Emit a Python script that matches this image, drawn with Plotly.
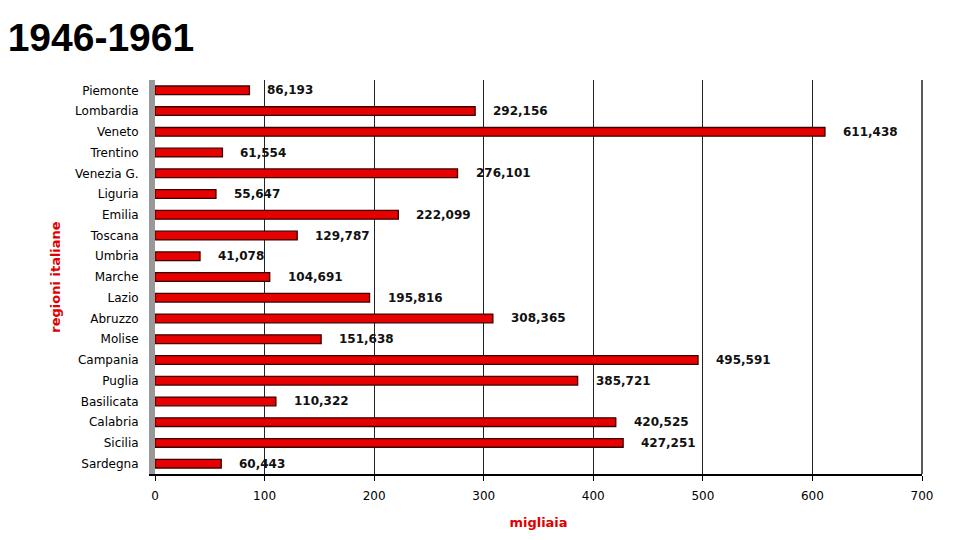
import plotly.graph_objects as go

regions = ["Piemonte", "Lombardia", "Veneto", "Trentino", "Venezia G.", "Liguria",
           "Emilia", "Toscana", "Umbria", "Marche", "Lazio", "Abruzzo", "Molise",
           "Campania", "Puglia", "Basilicata", "Calabria", "Sicilia", "Sardegna"]
values = [86.193, 292.156, 611.438, 61.554, 276.101, 55.647, 222.099, 129.787, 41.078,
          104.691, 195.816, 308.365, 151.638, 495.591, 385.721, 110.322, 420.525,
          427.251, 60.443]
labels = ["86,193", "292,156", "611,438", "61,554", "276,101", "55,647", "222,099",
          "129,787", "41,078", "104,691", "195,816", "308,365", "151,638", "495,591",
          "385,721", "110,322", "420,525", "427,251", "60,443"]
x_ticks = [0, 100, 200, 300, 400, 500, 600, 700]

fig = go.Figure()
fig.add_trace(go.Bar(
    x=values, y=regions, orientation="h", width=0.42,
    marker=dict(color="#e60000", line=dict(color="#3a0000", width=1.3)),
    hoverinfo="x+y",
))

annotations = []
for r, v, t in zip(regions, values, labels):
    annotations.append(dict(x=v, y=r, xref="x", yref="y", text="<b>" + t + "</b>",
                            showarrow=False, xanchor="left", xshift=16,
                            font=dict(family="DejaVu Sans", size=12, color="#111")))

fig.update_layout(
    width=960, height=540,
    paper_bgcolor="white", plot_bgcolor="white",
    margin=dict(l=155, r=38, t=80, b=64),
    showlegend=False,
    title=dict(text="1946-1961", xref="container", yref="container", x=0.008, y=0.93,
               xanchor="left", yanchor="middle",
               font=dict(family="Liberation Sans", size=39, color="black", weight="bold")),
    annotations=annotations,
    xaxis=dict(range=[0, 700], tickvals=x_ticks, showgrid=True, gridcolor="#222222",
               gridwidth=1.2, zeroline=False, showline=True, linecolor="black", linewidth=1.5,
               ticks="outside", ticklen=5, tickcolor="black", ticklabelstandoff=5,
               tickfont=dict(family="DejaVu Sans", size=12, color="black"),
               title=dict(text="<b>migliaia</b>", standoff=16,
                          font=dict(family="DejaVu Sans", size=13, color="#e00000"))),
    yaxis=dict(autorange="reversed", categoryorder="array", categoryarray=regions,
               showline=True, linecolor="#999999", linewidth=6, ticks="",
               ticklabelstandoff=8,
               tickfont=dict(family="DejaVu Sans", size=12, color="black"),
               title=dict(text="<b>regioni italiane</b>", standoff=13,
                          font=dict(family="DejaVu Sans", size=13, color="#e00000"))),
)
fig.update_layout(shapes=[dict(type="line", xref="paper", yref="paper", x0=1, x1=1, y0=0, y1=1,
                               line=dict(color="#222222", width=1.5))])

fig.write_html("out.html", config={"displayModeBar": False},
               post_script="document.body.style.margin='0';")
